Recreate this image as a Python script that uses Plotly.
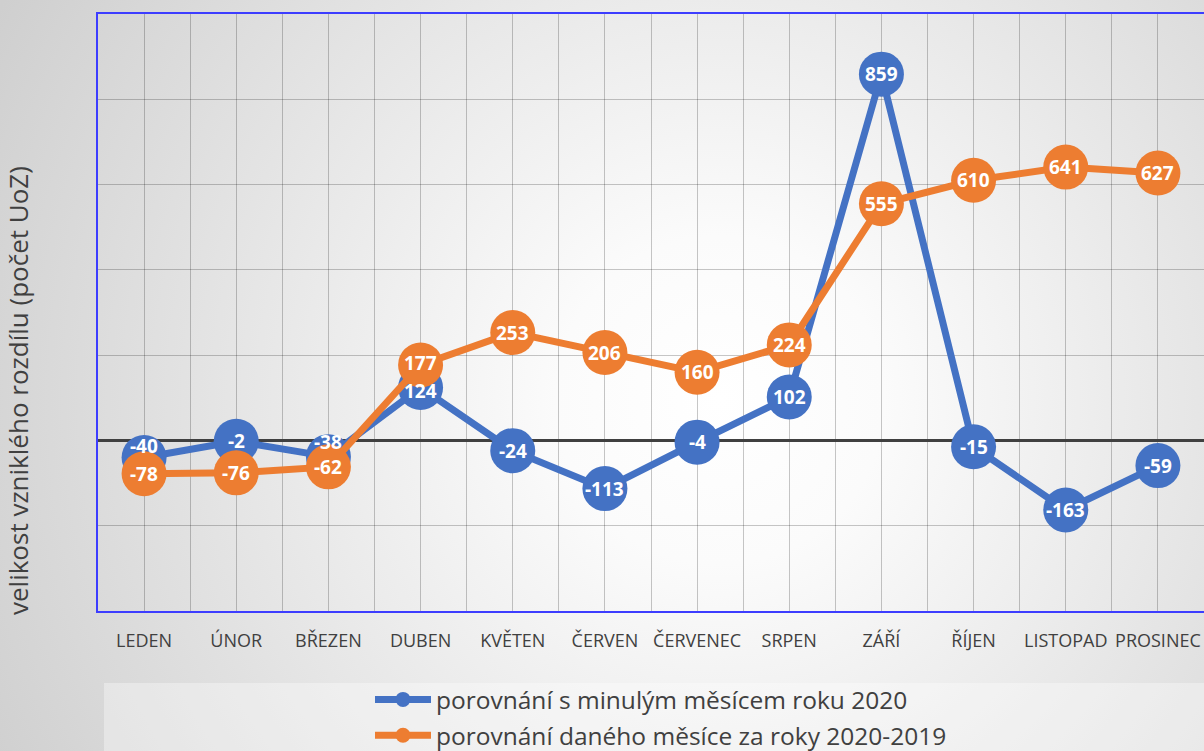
import base64
import plotly.graph_objects as go

months = ["LEDEN", "ÚNOR", "BŘEZEN", "DUBEN", "KVĚTEN", "ČERVEN", "ČERVENEC",
          "SRPEN", "ZÁŘÍ", "ŘÍJEN", "LISTOPAD", "PROSINEC"]
vs_prev_month = [-40, -2, -38, 124, -24, -113, -4, 102, 859, -15, -163, -59]
vs_prev_year = [-78, -76, -62, 177, 253, 206, 160, 224, 555, 610, 641, 627]
name_prev_month = "porovnání s minulým měsícem roku 2020"
name_prev_year = "porovnání daného měsíce za roky 2020-2019"
y_title = "velikost vzniklého rozdílu (počet UoZ)"

BLUE = "#4472C4"
ORANGE = "#ED7D31"
W, H = 1204, 751
L, R, T, B = 98, 0, 14, 140
PW, PH = W - L - R, H - T - B

xs = list(range(len(months)))
# label nudges (pixels) where the labels would collide, like the original's auto placement
blue_label_shift = {0: 11, 2: 15, 3: -3}
orange_label_shift = {3: 2}

svg = f'''<svg xmlns="http://www.w3.org/2000/svg" width="{W}" height="{H}" viewBox="0 0 {W} {H}" preserveAspectRatio="none">
<defs><radialGradient id="g" gradientUnits="userSpaceOnUse" cx="720" cy="400" r="820">
<stop offset="0" stop-color="#ffffff"/><stop offset="0.2" stop-color="#fbfbfb"/>
<stop offset="1" stop-color="#cfcfcf"/></radialGradient></defs>
<rect x="0" y="0" width="{W}" height="{H}" fill="url(#g)"/></svg>'''
svg_uri = "data:image/svg+xml;base64," + base64.b64encode(svg.encode()).decode()

fig = go.Figure()
for vals, color in [(vs_prev_month, BLUE), (vs_prev_year, ORANGE)]:
    fig.add_trace(go.Scatter(x=xs, y=vals, mode="lines+markers", showlegend=False,
                             line=dict(color=color, width=7),
                             marker=dict(color=color, size=45), hoverinfo="skip"))
for color, name, grp in [(BLUE, name_prev_month, "a"), (ORANGE, name_prev_year, "b")]:
    fig.add_trace(go.Scatter(x=[None], y=[None], mode="lines+markers", name=name,
                             legendgroup=grp,
                             line=dict(color=color, width=7), marker=dict(color=color, size=15)))

annotations = []
for vals, shifts in [(vs_prev_month, blue_label_shift), (vs_prev_year, orange_label_shift)]:
    for i, v in enumerate(vals):
        annotations.append(dict(x=xs[i], y=v, xref="x", yref="y", text=f"<b>{v}</b>",
                                showarrow=False, yshift=shifts.get(i, 0),
                                font=dict(color="white", size=19, family="Open Sans")))
annotations.append(dict(x=(18 - L) / PW, y=(611 - 391) / PH, xref="paper", yref="paper",
                        text=y_title, textangle=-90, showarrow=False,
                        xanchor="center", yanchor="middle",
                        font=dict(family="Open Sans", size=26, color="#404040")))

fig.update_layout(
    width=W, height=H, margin=dict(l=L, r=R, t=T, b=B, autoexpand=False),
    paper_bgcolor="white", plot_bgcolor="rgba(0,0,0,0)",
    images=[dict(source=svg_uri, xref="paper", yref="paper",
                 x=-L / PW, y=1 + T / PH, sizex=W / PW, sizey=H / PH,
                 sizing="stretch", layer="below", xanchor="left", yanchor="top")],
    shapes=[dict(type="rect", xref="paper", yref="paper", layer="below",
                 x0=(104 - L) / PW, x1=1.01, y0=-(751 - 611) / PH - 0.01, y1=-(683 - 611) / PH,
                 fillcolor="rgba(255,255,255,0.35)", line=dict(width=0))],
    annotations=annotations,
    showlegend=True,
    legend=dict(x=(661 - L) / PW, xanchor="center", yref="container", y=1 - 677 / H,
                yanchor="top",
                bgcolor="rgba(0,0,0,0)", font=dict(family="Open Sans", size=24.5, color="#404040"),
                itemwidth=56, tracegroupgap=1, traceorder="grouped"),
    xaxis=dict(range=[-0.5, 11.5], tickmode="array", tickvals=xs, ticktext=months,
               tickfont=dict(family="Open Sans", size=18, color="#404040"),
               ticks="outside", ticklen=12, tickcolor="rgba(0,0,0,0)",
               showgrid=True, gridcolor="rgba(0,0,0,0.22)", gridwidth=1,
               minor=dict(tickmode="linear", tick0=-0.5, dtick=1, showgrid=True,
                          gridcolor="rgba(0,0,0,0.22)", gridwidth=1),
               showline=True, linecolor="#3d3dff", linewidth=2, mirror=True, zeroline=False),
    yaxis=dict(range=[-400, 1000], dtick=200, showticklabels=False,
               showgrid=True, gridcolor="rgba(0,0,0,0.22)", gridwidth=1,
               zeroline=True, zerolinecolor="#404040", zerolinewidth=3,
               showline=True, linecolor="#3d3dff", linewidth=2, mirror=True),
)

fig.write_html("out.html", config={"displayModeBar": False},
               post_script="document.body.style.margin='0';document.body.style.overflow='hidden';")
